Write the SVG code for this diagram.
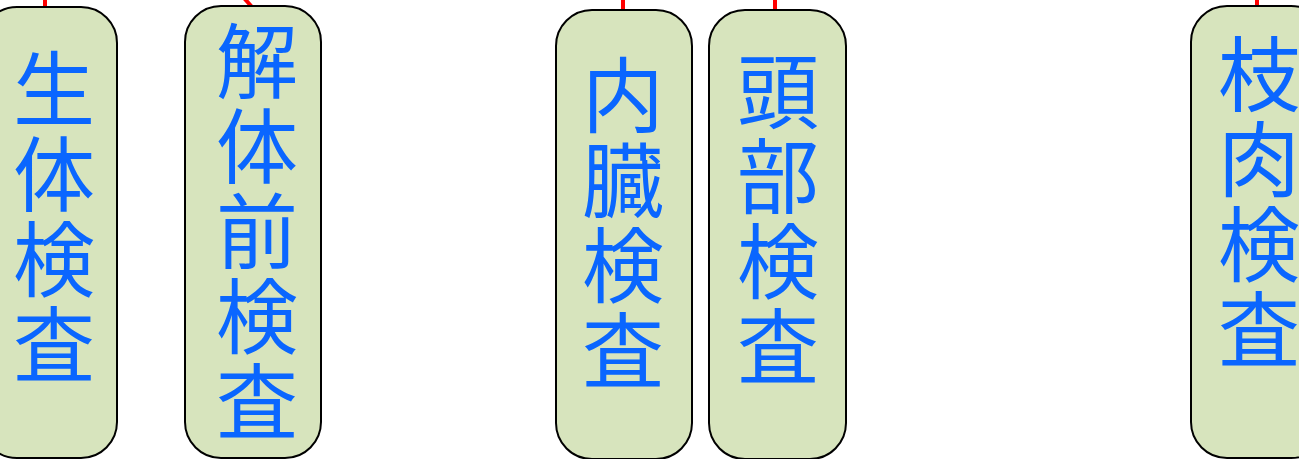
<svg xmlns="http://www.w3.org/2000/svg" width="1299" height="459" viewBox="0 0 1299 459">
<style>
.node rect{fill:#d7e4bd;stroke:#000;stroke-width:2}
.node text{font-family:"Noto Sans CJK JP","Noto Sans CJK SC",sans-serif;font-size:82px;fill:#0a66ff;writing-mode:vertical-rl;text-orientation:upright;letter-spacing:3px}
.conn{stroke:#ff0000;stroke-width:4;fill:none}
</style>
<rect width="1299" height="459" fill="#fff"/>
<g id="connectors">
<line class="conn" x1="45" y1="-2" x2="45" y2="7"/>
<line class="conn" x1="244" y1="-2" x2="252" y2="7"/>
<line class="conn" x1="623" y1="-2" x2="623" y2="10"/>
<line class="conn" x1="775" y1="-2" x2="775" y2="10"/>
<line class="conn" x1="1257" y1="-2" x2="1257" y2="6"/>
</g>
<g id="n1" class="node">
<rect x="-19" y="7" width="136" height="451" rx="36"/>
<text x="54" y="48">生体検査</text>
</g>
<g id="n2" class="node">
<rect x="185" y="6" width="136" height="452" rx="36"/>
<text x="257" y="20">解体前検査</text>
</g>
<g id="n3" class="node">
<rect x="556" y="10" width="136" height="449" rx="36"/>
<text x="623" y="54">内臓検査</text>
</g>
<g id="n4" class="node">
<rect x="709" y="10" width="137" height="449" rx="36"/>
<text x="778" y="50">頭部検査</text>
</g>
<g id="n5" class="node">
<rect x="1191" y="6" width="136" height="452" rx="36"/>
<text x="1259" y="33">枝肉検査</text>
</g>
</svg>
